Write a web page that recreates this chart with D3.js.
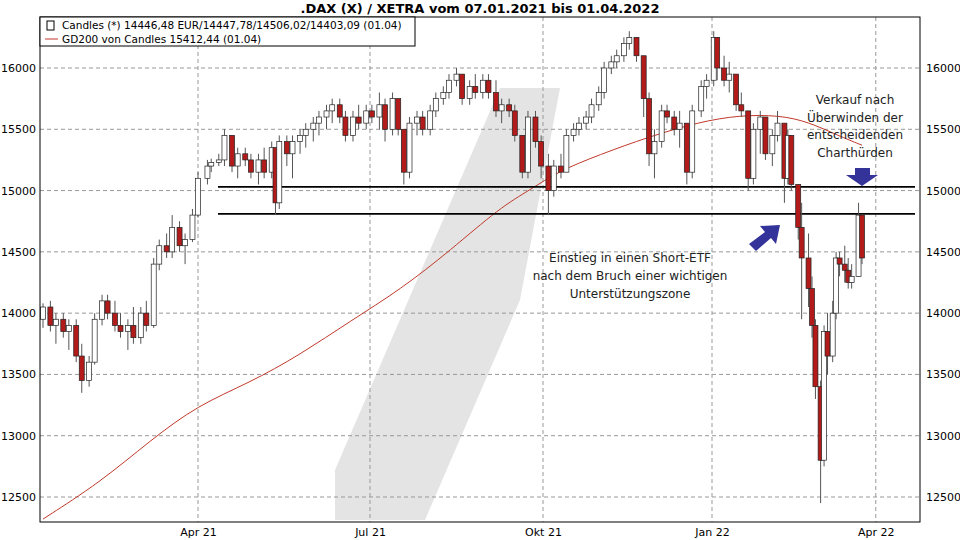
<!DOCTYPE html>
<html><head><meta charset="utf-8">
<script src="https://cdn.jsdelivr.net/npm/d3@7"></script>
<style>body{margin:0;background:#fff}text{font-family:"DejaVu Sans",Verdana,sans-serif}</style>
</head><body><svg id="c" width="960" height="540"></svg>
<script>
const candles = [
["2021-01-07",13950,14080,13880,14050],["2021-01-11",14050,14100,13850,13900],["2021-01-14",13900,14000,13750,13950],
["2021-01-18",13950,14000,13800,13850],["2021-01-21",13850,13950,13700,13900],["2021-01-25",13900,13950,13600,13650],
["2021-01-28",13650,13750,13350,13450],["2021-02-01",13450,13650,13400,13600],["2021-02-04",13600,14000,13580,13950],
["2021-02-08",13950,14150,13900,14100],["2021-02-11",14100,14150,13950,14000],["2021-02-15",14000,14100,13850,13900],
["2021-02-18",13900,14000,13800,13850],["2021-02-22",13850,13950,13700,13900],["2021-02-25",13900,14050,13750,13800],
["2021-03-01",13800,14050,13750,14000],["2021-03-04",14000,14100,13850,13900],["2021-03-08",13900,14450,13880,14400],
["2021-03-11",14400,14600,14350,14550],["2021-03-15",14550,14650,14450,14500],["2021-03-18",14500,14800,14450,14700],
["2021-03-22",14700,14750,14500,14550],["2021-03-25",14550,14650,14400,14600],["2021-03-29",14600,14850,14580,14800],
["2021-04-01",14800,15150,14780,15100],["2021-04-06",15100,15250,15050,15200],["2021-04-08",15200,15260,15150,15230],
["2021-04-12",15230,15300,15200,15250],["2021-04-15",15250,15500,15200,15450],["2021-04-19",15450,15450,15150,15200],
["2021-04-22",15200,15350,15100,15300],["2021-04-26",15300,15350,15200,15250],["2021-04-29",15250,15300,15100,15150],
["2021-05-03",15150,15300,15050,15250],["2021-05-06",15250,15350,15100,15150],["2021-05-10",15150,15400,15100,15350],
["2021-05-12",15350,15350,14800,14900],["2021-05-14",14900,15450,14850,15400],["2021-05-18",15400,15450,15200,15300],
["2021-05-21",15300,15450,15100,15400],["2021-05-25",15400,15500,15300,15450],["2021-05-28",15450,15550,15350,15500],
["2021-06-01",15500,15600,15400,15550],["2021-06-04",15550,15650,15450,15600],["2021-06-08",15600,15700,15500,15650],
["2021-06-11",15650,15750,15550,15700],["2021-06-15",15700,15750,15550,15600],["2021-06-18",15600,15650,15400,15450],
["2021-06-22",15450,15650,15400,15600],["2021-06-25",15600,15700,15500,15550],["2021-06-29",15550,15700,15500,15650],
["2021-07-02",15650,15700,15550,15600],["2021-07-06",15600,15800,15500,15700],["2021-07-09",15700,15750,15400,15500],
["2021-07-13",15500,15800,15450,15750],["2021-07-16",15750,15750,15450,15500],["2021-07-19",15500,15500,15050,15150],
["2021-07-22",15150,15600,15100,15550],["2021-07-26",15550,15650,15450,15600],["2021-07-29",15600,15650,15450,15500],
["2021-08-02",15500,15700,15450,15650],["2021-08-05",15650,15800,15600,15750],["2021-08-09",15750,15850,15700,15800],
["2021-08-12",15800,15950,15750,15900],["2021-08-16",15900,16000,15850,15950],["2021-08-19",15950,15950,15700,15750],
["2021-08-23",15750,15900,15700,15850],["2021-08-26",15850,15950,15750,15800],["2021-08-30",15800,15950,15750,15900],
["2021-09-02",15900,15950,15750,15800],["2021-09-06",15800,15900,15600,15650],["2021-09-09",15650,15750,15550,15700],
["2021-09-13",15700,15750,15600,15650],["2021-09-16",15650,15700,15400,15450],["2021-09-20",15450,15450,15100,15150],
["2021-09-23",15150,15650,15100,15600],["2021-09-27",15600,15650,15350,15400],["2021-09-30",15400,15450,15100,15200],
["2021-10-04",15200,15300,14800,15000],["2021-10-07",15000,15250,14950,15200],["2021-10-11",15200,15300,15100,15150],
["2021-10-14",15150,15500,15150,15450],["2021-10-18",15450,15550,15400,15500],["2021-10-21",15500,15600,15450,15550],
["2021-10-25",15550,15650,15500,15600],["2021-10-28",15600,15750,15550,15700],["2021-11-01",15700,15850,15650,15800],
["2021-11-04",15800,16050,15750,16000],["2021-11-08",16000,16100,15950,16050],["2021-11-11",16050,16150,16000,16100],
["2021-11-15",16100,16250,16050,16200],["2021-11-18",16200,16300,16150,16250],["2021-11-22",16250,16250,16050,16100],
["2021-11-26",16100,16100,15600,15750],["2021-11-29",15750,15800,15200,15300],["2021-12-02",15300,15500,15100,15400],
["2021-12-06",15400,15700,15350,15650],["2021-12-09",15650,15700,15550,15600],["2021-12-13",15600,15650,15450,15500],
["2021-12-16",15500,15650,15350,15550],["2021-12-20",15550,15550,15050,15150],["2021-12-23",15150,15700,15100,15650],
["2021-12-28",15650,15900,15600,15850],["2021-12-31",15850,15950,15750,15900],["2022-01-04",15900,16300,15850,16250],
["2022-01-06",16250,16250,15900,16000],["2022-01-10",16000,16100,15850,15900],["2022-01-13",15900,16050,15800,15950],
["2022-01-17",15950,15950,15650,15700],["2022-01-20",15700,15800,15600,15650],["2022-01-24",15650,15650,15000,15100],
["2022-01-27",15100,15550,15050,15500],["2022-01-31",15500,15650,15300,15600],["2022-02-03",15600,15600,15250,15300],
["2022-02-07",15300,15500,15200,15450],["2022-02-10",15450,15650,15400,15550],["2022-02-14",15550,15550,14900,15100],
["2022-02-16",15100,15500,15050,15450],["2022-02-18",15450,15450,15000,15050],["2022-02-22",15050,15050,14600,14700],
["2022-02-24",14700,14900,13950,14450],["2022-02-28",14450,14650,14050,14200],["2022-03-02",14200,14300,13800,13900],
["2022-03-04",13900,13950,13300,13400],["2022-03-07",13400,13450,12450,12800],["2022-03-09",12800,13900,12750,13850],
["2022-03-11",13850,14000,13500,13650],["2022-03-14",13650,14100,13600,14000],["2022-03-16",14000,14500,13950,14450],
["2022-03-18",14450,14500,14300,14400],["2022-03-21",14400,14550,14250,14350],["2022-03-23",14350,14450,14200,14250],
["2022-03-25",14250,14400,14200,14300],["2022-03-29",14300,14900,14300,14800],["2022-03-31",14800,14800,14400,14450]
];
const gd200Dates = ["2021-01-07","2021-02-07","2021-03-06","2021-04-01","2021-04-28","2021-05-25","2021-06-21","2021-07-17","2021-08-13","2021-09-08","2021-09-24","2021-10-10","2021-11-01","2021-11-29","2021-12-27","2022-01-19","2022-02-11","2022-02-28","2022-03-17","2022-03-31"];
const gd200Values = [12320,12620,12960,13250,13430,13660,13940,14190,14515,14860,15005,15160,15290,15440,15560,15615,15615,15560,15450,15370];
const yTicks = [12500,13000,13500,14000,14500,15000,15500,16000];
const xTickDates = ["2021-04-01","2021-07-01","2021-10-01","2022-01-03","2022-04-08"];
const xTickLabels = ["Apr 21","Jul 21","Okt 21","Jan 22","Apr 22"];
const levels = [15030, 14810];

const P = d3.timeParse("%Y-%m-%d");
const svg = d3.select("#c");
const L=40,R=920,T=17,B=522;
const x = d3.scaleTime()
  .domain(["2021-01-07","2021-04-01","2021-07-01","2021-10-01","2022-01-03","2022-03-31"].map(P))
  .range([43,198,370,543,712,862]);
const y = d3.scaleLinear().domain([12500,16000]).range([497,68]);

// watermark
svg.append("path").attr("d","M335,520 L425,520 L520,300 L560,88 L500,88 L335,470 Z").attr("fill","#e4e4e4");

// grid
const g = svg.append("g");
yTicks.forEach(v=>g.append("line").attr("x1",L).attr("x2",R).attr("y1",y(v)).attr("y2",y(v)).attr("stroke","#999").attr("stroke-dasharray","4,3"));
xTickDates.forEach(d=>g.append("line").attr("x1",x(P(d))).attr("x2",x(P(d))).attr("y1",T).attr("y2",B).attr("stroke","#999").attr("stroke-dasharray","4,3"));

// axes labels
const fmt = d3.format("d");
const yl = d3.axisLeft(y).tickValues(yTicks).tickFormat(fmt).tickSize(0).tickPadding(4);
svg.append("g").attr("transform",`translate(${L},0)`).call(yl).call(s=>{s.select(".domain").remove();s.selectAll("text").attr("font-size",11).attr("fill","#000");});
const yr = d3.axisRight(y).tickValues(yTicks).tickFormat(fmt).tickSize(0).tickPadding(6);
svg.append("g").attr("transform",`translate(${R},0)`).call(yr).call(s=>{s.select(".domain").remove();s.selectAll("text").attr("font-size",11).attr("fill","#000");});
const xa = d3.axisBottom(x).tickValues(xTickDates.map(P)).tickFormat((d,i)=>xTickLabels[i]).tickSize(0).tickPadding(6);
svg.append("g").attr("transform",`translate(0,${B})`).call(xa).call(s=>{s.select(".domain").remove();s.selectAll("text").attr("font-size",11).attr("fill","#000");});

// GD200
svg.append("path").datum(gd200Dates.map((d,i)=>[P(d),gd200Values[i]]))
  .attr("d",d3.line().x(d=>x(d[0])).y(d=>y(d[1])).curve(d3.curveBasis))
  .attr("fill","none").attr("stroke","#c0392b").attr("stroke-width",1);

// levels
levels.forEach(v=>svg.append("line").attr("x1",218).attr("x2",915).attr("y1",y(v)).attr("y2",y(v)).attr("stroke","#000").attr("stroke-width",1.6));

// candles
const cg = svg.append("g");
candles.forEach(c=>{
  const cx = x(P(c[0])), o=c[1],h=c[2],l=c[3],cl=c[4];
  cg.append("line").attr("x1",cx).attr("x2",cx).attr("y1",y(h)).attr("y2",y(l)).attr("stroke","#555");
  const up = cl>=o;
  cg.append("rect").attr("x",cx-2.5).attr("width",5).attr("y",y(Math.max(o,cl))).attr("height",Math.max(1,Math.abs(y(o)-y(cl))))
    .attr("fill",up?"#fff":"#b31b1b").attr("stroke","#222").attr("stroke-width",0.7);
});

// frame
svg.append("rect").attr("x",L).attr("y",T).attr("width",R-L).attr("height",B-T).attr("fill","none").attr("stroke","#000");

// title
svg.append("text").attr("x",480).attr("y",13).attr("text-anchor","middle").attr("font-size",13).attr("font-weight","bold").text(".DAX (X) / XETRA vom 07.01.2021 bis 01.04.2022");

// legend
const lg = svg.append("g");
lg.append("rect").attr("x",L).attr("y",T).attr("width",375).attr("height",29).attr("fill","#fff").attr("stroke","#000");
lg.append("rect").attr("x",47).attr("y",21).attr("width",7).attr("height",9).attr("fill","#fff").attr("stroke","#000");
lg.append("text").attr("x",62).attr("y",29).attr("font-size",10.5).text("Candles (*) 14446,48 EUR/14447,78/14506,02/14403,09 (01.04)");
lg.append("line").attr("x1",45).attr("x2",58).attr("y1",39).attr("y2",39).attr("stroke","#c0392b");
lg.append("text").attr("x",62).attr("y",43).attr("font-size",10.5).text("GD200 von Candles 15412,44 (01.04)");

// annotations
const ann = (lines,cx,y0,dy)=>lines.forEach((t,i)=>svg.append("text").attr("x",cx).attr("y",y0+i*dy).attr("text-anchor","middle").attr("font-size",12).attr("fill","#222").attr("font-weight",500).text(t));
ann(["Verkauf nach","Überwinden der","entscheidenden","Charthürden"],855,104,17.5);
ann(["Einstieg in einen Short-ETF","nach dem Bruch einer wichtigen","Unterstützungszone"],630,262,18);

// arrows
svg.append("path").attr("d","M855,168 L870,168 L870,175 L878,175 L862,186 L846,175 L855,175 Z").attr("fill","#333399");
svg.append("path").attr("d","M749,244 L765,232 L760,226 L780,225 L776,244 L771,238 L756,251 Z").attr("fill","#333399");
</script></body></html>
